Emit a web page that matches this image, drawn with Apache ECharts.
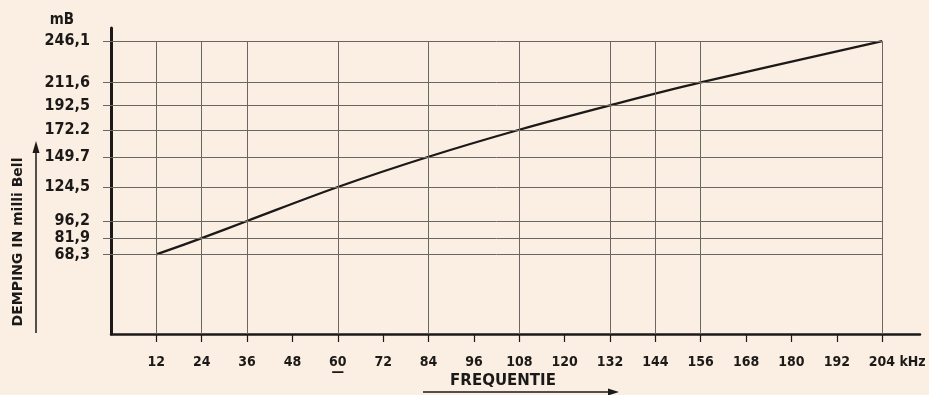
<!DOCTYPE html>
<html>
<head>
<meta charset="utf-8">
<script src="https://cdn.jsdelivr.net/npm/echarts@6/dist/echarts.min.js"></script>
<style>
  html, body { margin: 0; padding: 0; background: #fbeee3; }
  #chart { width: 929px; height: 395px; }
</style>
</head>
<body>
<div id="chart"></div>
<script>
// frequency (kHz) and attenuation (mB)
const freqs = [12, 24, 36, 60, 84, 108, 132, 156, 204];
const damping = [68.3, 81.9, 96.2, 124.5, 149.7, 172.2, 192.5, 211.6, 246.1];
const dampingLabels = ['68,3', '81,9', '96,2', '124,5', '149.7', '172.2', '192,5', '211,6', '246,1'];
const xTicks = [12, 24, 36, 48, 60, 72, 84, 96, 108, 120, 132, 144, 156, 168, 180, 192, 204];
const xGridLines = [12, 24, 36, 60, 84, 108, 132, 144, 156, 204];

const ink = '#1c1a18';
const gridInk = '#6a6662';
const cond = "'DejaVu Sans Condensed', 'DejaVu Sans', sans-serif";

const chart = echarts.init(document.getElementById('chart'));

const gridMarks = [];
damping.forEach(v => gridMarks.push([{ coord: [0, v] }, { coord: [204, v] }]));
xGridLines.forEach(x => gridMarks.push([{ coord: [x, 2] }, { coord: [x, 246.1] }]));

chart.setOption({
  backgroundColor: '#fbeee3',
  animation: false,
  grid: { left: 111, right: 9, top: 28, bottom: 61 },
  xAxis: {
    type: 'value',
    min: 0,
    max: 214,
    interval: 12,
    axisLine: { lineStyle: { color: ink, width: 2.5 } },
    axisTick: { customValues: xTicks, length: 8, lineStyle: { color: ink, width: 1.2 } },
    splitLine: { show: false },
    axisLabel: {
      customValues: xTicks,
      margin: 21,
      color: ink,
      fontFamily: cond,
      fontWeight: 'bold',
      fontSize: 14,
      formatter: v => {
        if (v === 204) return '{n|204}{u| kHz}';
        if (v === 60) return '60\n{ul|\u2014}';
        return String(v);
      },
      rich: {
        n: { fontFamily: cond, fontWeight: 'bold', fontSize: 14, color: ink, padding: [0, 0, 0, 30] },
        u: { fontFamily: cond, fontWeight: 'bold', fontSize: 14, color: ink },
        ul: { fontFamily: cond, fontWeight: 'bold', fontSize: 14, color: ink, lineHeight: 6 }
      }
    }
  },
  yAxis: {
    type: 'value',
    min: 2,
    max: 257,
    name: 'mB',
    nameLocation: 'end',
    nameGap: 0,
    nameTextStyle: { color: ink, fontFamily: cond, fontWeight: 'bold', fontSize: 15, align: 'right', padding: [0, 37, 0, 0] },
    axisLine: { lineStyle: { color: ink, width: 3 } },
    axisTick: { customValues: damping, length: 8, lineStyle: { color: gridInk, width: 1 } },
    splitLine: { show: false },
    axisLabel: {
      customValues: damping,
      margin: 21,
      color: ink,
      fontFamily: cond,
      fontWeight: 'bold',
      fontSize: 16,
      formatter: v => dampingLabels[damping.indexOf(v)]
    }
  },
  graphic: [
    {
      type: 'text', x: 18, y: 242, rotation: Math.PI / 2,
      style: { text: 'DEMPING IN milli Bell', fill: ink, font: "bold 14px 'DejaVu Sans', sans-serif", align: 'center', verticalAlign: 'middle' }
    },
    { type: 'polyline', shape: { points: [[36, 333], [36, 150]] }, style: { stroke: ink, lineWidth: 1.5 } },
    { type: 'polygon', shape: { points: [[32.5, 153], [39.5, 153], [36, 141]] }, style: { fill: ink } },
    {
      type: 'text', x: 503, y: 381,
      style: { text: 'FREQUENTIE', fill: ink, font: "bold 15px 'DejaVu Sans', sans-serif", align: 'center', verticalAlign: 'middle' }
    },
    { type: 'polyline', shape: { points: [[423, 392], [610, 392]] }, style: { stroke: ink, lineWidth: 1.5 } },
    { type: 'polygon', shape: { points: [[608, 388.5], [608, 395.5], [619, 392]] }, style: { fill: ink } }
  ],
  series: [
    {
      type: 'line',
      data: [],
      z: 1,
      markLine: {
        silent: true,
        symbol: 'none',
        label: { show: false },
        lineStyle: { color: gridInk, width: 1, type: 'solid' },
        data: gridMarks
      }
    },
    {
      type: 'line',
      z: 3,
      smooth: 0.35,
      showSymbol: false,
      lineStyle: { color: ink, width: 2.3 },
      data: freqs.map((f, i) => [f, damping[i]])
    }
  ]
});
</script>
</body>
</html>
